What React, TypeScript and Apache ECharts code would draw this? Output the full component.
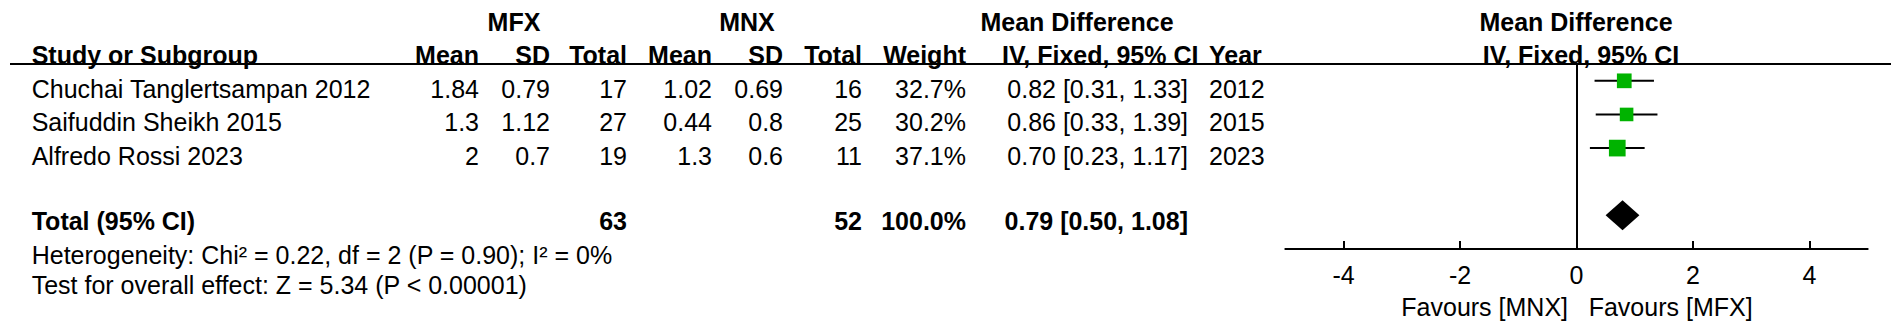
import React, { useEffect, useRef } from "react";
import * as echarts from "echarts";

// ---------- data ----------
const studies = ["Chuchai Tanglertsampan 2012", "Saifuddin Sheikh 2015", "Alfredo Rossi 2023"];
const mfxMean = [1.84, 1.3, 2];
const mfxSD = [0.79, 1.12, 0.7];
const mfxTotal = [17, 27, 19];
const mnxMean = [1.02, 0.44, 1.3];
const mnxSD = [0.69, 0.8, 0.6];
const mnxTotal = [16, 25, 11];
const weights = [32.7, 30.2, 37.1];
const meanDiff = [0.82, 0.86, 0.7];
const ciLow = [0.31, 0.33, 0.23];
const ciHigh = [1.33, 1.39, 1.17];
const years = [2012, 2015, 2023];
const pooledTotals = [63, 52];
const pooledWeight = 100.0;
const pooled = [0.79, 0.5, 1.08];
const xTicks = [-4, -2, 0, 2, 4];
const heterogeneityText = "Heterogeneity: Chi\u00b2 = 0.22, df = 2 (P = 0.90); I\u00b2 = 0%";
const overallText = "Test for overall effect: Z = 5.34 (P < 0.00001)";
const favoursLeft = "Favours [MNX]";
const favoursRight = "Favours [MFX]";

// ---------- layout ----------
const FONT = "'Liberation Sans', Arial, Helvetica, sans-serif";
const FS = 25;
const ROW_Y0 = 89;
const ROW_H = 33.3;
const TOTAL_ROW = 4;

type Align = "left" | "center" | "right";
function txt(text: string, x: number, y: number, align: Align, bold = false) {
  return {
    type: "text",
    x,
    y,
    silent: true,
    style: {
      text,
      fill: "#000",
      fontSize: FS,
      fontWeight: bold ? "bold" : "normal",
      fontFamily: FONT,
      textAlign: align,
      textVerticalAlign: "middle",
      align,
      verticalAlign: "middle",
    },
  };
}

function fmt2(v: number) {
  return v.toFixed(2);
}

function buildGraphic() {
  const els: any[] = [];
  // group headers
  els.push(txt("MFX", 514, 21.5, "center", true));
  els.push(txt("MNX", 747, 21.5, "center", true));
  els.push(txt("Mean Difference", 1077, 21.5, "center", true));
  els.push(txt("Mean Difference", 1576, 21.5, "center", true));
  // column headers
  const hy = 54.5;
  els.push(txt("Study or Subgroup", 31.7, hy, "left", true));
  els.push(txt("Mean", 479, hy, "right", true));
  els.push(txt("SD", 550, hy, "right", true));
  els.push(txt("Total", 627, hy, "right", true));
  els.push(txt("Mean", 712, hy, "right", true));
  els.push(txt("SD", 783, hy, "right", true));
  els.push(txt("Total", 862, hy, "right", true));
  els.push(txt("Weight", 966, hy, "right", true));
  els.push(txt("IV, Fixed, 95% CI", 1002, hy, "left", true));
  els.push(txt("Year", 1209, hy, "left", true));
  els.push(txt("IV, Fixed, 95% CI", 1581, hy, "center", true));
  // rule
  els.push({
    type: "line",
    silent: true,
    shape: { x1: 10, y1: 64, x2: 1891, y2: 64 },
    style: { stroke: "#000", lineWidth: 2.2 },
  });
  // study rows
  studies.forEach((s, i) => {
    const y = ROW_Y0 + i * ROW_H;
    els.push(txt(s, 31.7, y, "left"));
    els.push(txt(String(mfxMean[i]), 479, y, "right"));
    els.push(txt(String(mfxSD[i]), 550, y, "right"));
    els.push(txt(String(mfxTotal[i]), 627, y, "right"));
    els.push(txt(String(mnxMean[i]), 712, y, "right"));
    els.push(txt(String(mnxSD[i]), 783, y, "right"));
    els.push(txt(String(mnxTotal[i]), 862, y, "right"));
    els.push(txt(weights[i].toFixed(1) + "%", 966, y, "right"));
    els.push(
      txt(`${fmt2(meanDiff[i])} [${fmt2(ciLow[i])}, ${fmt2(ciHigh[i])}]`, 1188, y, "right")
    );
    els.push(txt(String(years[i]), 1209, y, "left"));
  });
  // total row
  const ty = 221;
  els.push(txt("Total (95% CI)", 31.7, ty, "left", true));
  els.push(txt(String(pooledTotals[0]), 627, ty, "right", true));
  els.push(txt(String(pooledTotals[1]), 862, ty, "right", true));
  els.push(txt(pooledWeight.toFixed(1) + "%", 966, ty, "right", true));
  els.push(
    txt(`${fmt2(pooled[0])} [${fmt2(pooled[1])}, ${fmt2(pooled[2])}]`, 1188, ty, "right", true)
  );
  els.push(txt(heterogeneityText, 31.7, 255, "left"));
  els.push(txt(overallText, 31.7, 285, "left"));
  // favours
  els.push(txt(favoursLeft, 1568, 306.7, "right"));
  els.push(txt(favoursRight, 1588.7, 306.7, "left"));
  return els;
}

export default function App() {
  const ref = useRef<HTMLDivElement>(null);
  useEffect(() => {
    if (!ref.current) return;
    const chart = echarts.init(ref.current, null, { renderer: "svg" });
    const studyData = studies.map((_, i) => [i, meanDiff[i], ciLow[i], ciHigh[i], weights[i]]);
    const totalData = [[TOTAL_ROW, pooled[0], pooled[1], pooled[2]]];
    const option: any = {
      animation: false,
      backgroundColor: "#fff",
      textStyle: { fontFamily: FONT, color: "#000" },
      grid: { left: 1285.3, right: 34.3, top: 64, bottom: 81, containLabel: false },
      xAxis: {
        type: "value",
        min: -5,
        max: 5,
        axisLine: { show: true, onZero: false, lineStyle: { color: "#000", width: 2 } },
        axisTick: {
          show: true,
          inside: true,
          length: 8,
          customValues: xTicks,
          lineStyle: { color: "#000", width: 2 },
        },
        axisLabel: {
          show: true,
          customValues: xTicks,
          color: "#000",
          fontSize: FS,
          fontFamily: FONT,
          margin: 13,
        },
        splitLine: { show: false },
      },
      yAxis: {
        type: "value",
        min: -0.5,
        max: 5,
        inverse: true,
        axisLine: { show: true, onZero: true, lineStyle: { color: "#000", width: 2 } },
        axisTick: { show: false },
        axisLabel: { show: false },
        splitLine: { show: false },
      },
      series: [
        {
          type: "custom",
          name: "studies",
          data: studyData,
          encode: { x: [1, 2, 3], y: 0 },
          renderItem: (params: any, api: any) => {
            const y = api.value(0);
            const pLo = api.coord([api.value(2), y]);
            const pHi = api.coord([api.value(3), y]);
            const pMd = api.coord([api.value(1), y]);
            const size = api.value(4) * 0.45;
            return {
              type: "group",
              children: [
                {
                  type: "line",
                  shape: { x1: pLo[0], y1: pLo[1], x2: pHi[0], y2: pHi[1] },
                  style: { stroke: "#000", lineWidth: 2 },
                },
                {
                  type: "rect",
                  shape: { x: pMd[0] - size / 2, y: pMd[1] - size / 2, width: size, height: size },
                  style: { fill: "#00b300" },
                },
              ],
            };
          },
        },
        {
          type: "custom",
          name: "pooled",
          data: totalData,
          encode: { x: [1, 2, 3], y: 0 },
          renderItem: (params: any, api: any) => {
            const y = api.value(0);
            const pLo = api.coord([api.value(2), y]);
            const pHi = api.coord([api.value(3), y]);
            const pMd = api.coord([api.value(1), y]);
            const h = 15;
            return {
              type: "polygon",
              shape: {
                points: [
                  [pLo[0], pLo[1]],
                  [pMd[0], pMd[1] - h],
                  [pHi[0], pHi[1]],
                  [pMd[0], pMd[1] + h],
                ],
              },
              style: { fill: "#000" },
            };
          },
        },
      ],
      graphic: buildGraphic(),
    };
    chart.setOption(option);
    return () => chart.dispose();
  }, []);
  return (
    <div
      ref={ref}
      style={{ position: "fixed", left: 0, top: 0, width: 1902, height: 330, background: "#fff" }}
    />
  );
}
